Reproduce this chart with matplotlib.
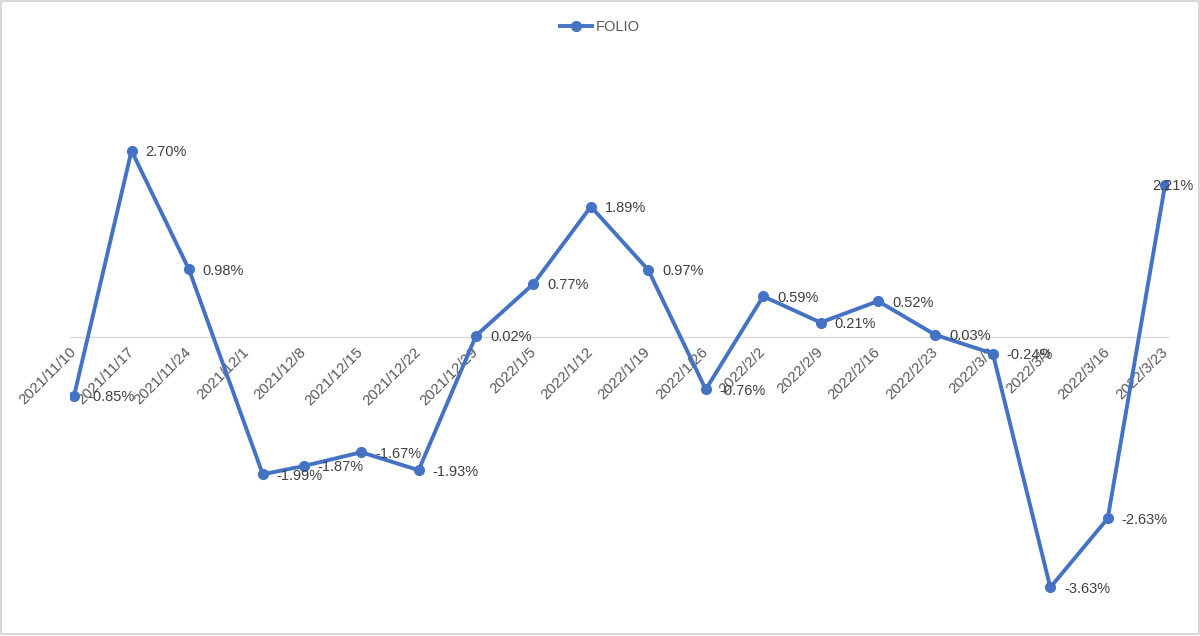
import matplotlib
matplotlib.use("Agg")
import matplotlib.pyplot as plt
from matplotlib.patches import Rectangle
import pandas as pd

tick_dates = ["2021/11/10", "2021/11/17", "2021/11/24", "2021/12/1", "2021/12/8",
              "2021/12/15", "2021/12/22", "2021/12/29", "2022/1/5", "2022/1/12",
              "2022/1/19", "2022/1/26", "2022/2/2", "2022/2/9", "2022/2/16",
              "2022/2/23", "2022/3/2", "2022/3/9", "2022/3/16", "2022/3/23"]
point_dates = ["2021/11/10", "2021/11/17", "2021/11/24", "2021/12/3", "2021/12/8",
               "2021/12/15", "2021/12/22", "2021/12/29", "2022/1/5", "2022/1/12",
               "2022/1/19", "2022/1/26", "2022/2/2", "2022/2/9", "2022/2/16",
               "2022/2/23", "2022/3/2", "2022/3/9", "2022/3/16", "2022/3/23"]
folio = [-0.85, 2.70, 0.98, -1.99, -1.87, -1.67, -1.93, 0.02, 0.77, 1.89,
         0.97, -0.76, 0.59, 0.21, 0.52, 0.03, -0.24, -3.63, -2.63, 2.21]

plt.rcParams['font.family'] = ['Liberation Sans', 'DejaVu Sans']

W, H = 1200, 636
fig = plt.figure(figsize=(W / 100, H / 100), dpi=100)
fig.patch.set_facecolor('white')

left, right = 70, 1168
top, bottom = 130, 613
ax = fig.add_axes([left / W, 1 - bottom / H, (right - left) / W, (bottom - top) / H])

t0 = pd.Timestamp(tick_dates[0])
xt = [(pd.Timestamp(d) - t0).days for d in tick_dates]
xp = [(pd.Timestamp(d) - t0).days for d in point_dates]

color = '#4472C4'
line, = ax.plot(xp, folio, color=color, lw=2.8, marker='o', ms=7,
                solid_joinstyle='round', label='FOLIO', zorder=3)

ax.set_xlim(xt[0] - 0.5, xt[-1] + 0.35)
ax.set_ylim(-4, 3)

for s in ['top', 'right', 'left']:
    ax.spines[s].set_visible(False)
ax.spines['bottom'].set_position(('data', 0))
ax.spines['bottom'].set_color('#D9D9D9')
ax.spines['bottom'].set_linewidth(1.0)
ax.spines['bottom'].set_zorder(1)
ax.set_yticks([])
ax.set_xticks(xt)
ax.set_xticklabels(tick_dates, rotation=45, ha='right', va='center',
                   rotation_mode='anchor', fontsize=10.8, color='#595959')
ax.tick_params(axis='x', length=0, pad=9)

for i, v in enumerate(folio):
    dx = 10 if i < len(folio) - 1 else -9
    ax.annotate(f"{v:.2f}%", (xp[i], v), xytext=(dx, -1), textcoords='offset points',
                ha='left', va='center', fontsize=10.5, color='#404040', zorder=4)

fig.legend(handles=[line], labels=['FOLIO'], loc='center',
           bbox_to_anchor=(0.5, 1 - 27 / H), frameon=False, fontsize=10.5,
           handlelength=2.2, handletextpad=0.3, labelcolor='#595959')

fig.add_artist(Rectangle((0.5 / W, 2.5 / H), (W - 2) / W, (H - 3.5) / H,
                         transform=fig.transFigure, fill=False,
                         edgecolor='#D9D9D9', lw=1.5))

fig.savefig('out.png', dpi=100)
